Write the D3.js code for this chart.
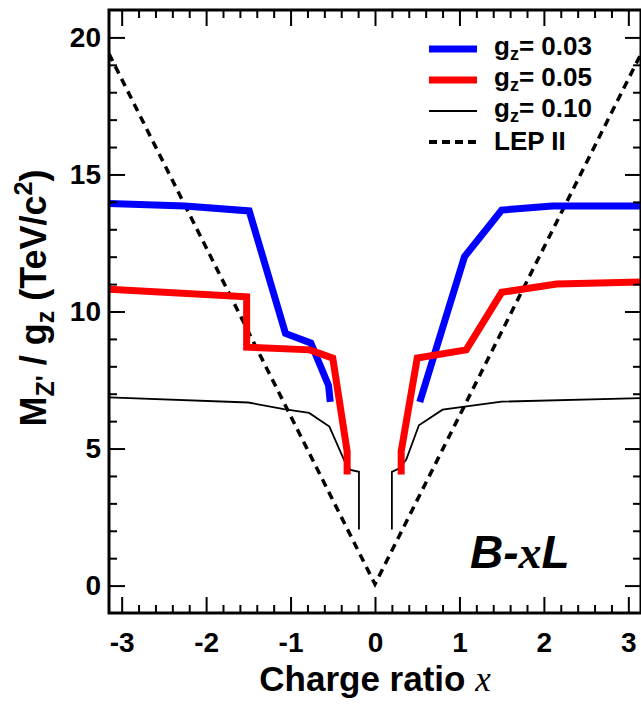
<!DOCTYPE html>
<html>
<head>
<meta charset="utf-8">
<script src="https://cdn.jsdelivr.net/npm/d3@7"></script>
<style>
  body { margin: 0; background: #fff; }
  svg text { font-family: "Liberation Sans", Arial, Helvetica, sans-serif; font-weight: bold; }
</style>
</head>
<body>
<svg id="chart" width="641" height="704"></svg>
<script>
// curves, [charge ratio x, M/g]
var blueLeft  = [[-3.15,13.94],[-2.25,13.85],[-1.49,13.67],[-1.06,9.2],[-0.76,8.85],[-0.55,7.3],[-0.53,6.7]];
var blueRight = [[0.53,6.7],[1.06,12.0],[1.5,13.7],[2.1,13.85],[3.15,13.85]];
var redLeft   = [[-3.15,10.81],[-1.52,10.54],[-1.52,8.7],[-0.77,8.6],[-0.5,8.3],[-0.33,4.9],[-0.33,4.05]];
var redRight  = [[0.31,4.05],[0.31,4.9],[0.5,8.3],[1.08,8.6],[1.5,10.7],[2.15,11.0],[3.15,11.08]];
var blackLeft = [[-3.15,6.87],[-1.5,6.68],[-1.08,6.44],[-0.78,6.3],[-0.54,5.8],[-0.34,4.4],[-0.29,4.22],[-0.19,4.15],[-0.19,2.05]];
var blackRight= [[0.2,2.05],[0.2,4.15],[0.29,4.28],[0.37,4.6],[0.52,5.85],[0.8,6.42],[1.5,6.71],[3.15,6.84]];
var lep       = [[-3.15,19.4],[0,0.05],[3.15,19.4]];

var legendNames = ["0.03", "0.05", "0.10", "LEP II"];
var xMajor = [-3,-2,-1,0,1,2,3];
var yMajor = [0,5,10,15,20];

var svg = d3.select("#chart");

var x = d3.scaleLinear().domain([-3.15, 3.15]).range([109, 641]);
var y = d3.scaleLinear().domain([-1, 21]).range([613, 10]);

var xMinor = d3.range(-15, 16).map(function(i){ return i/5; }).filter(function(v){ return Math.abs(v - Math.round(v)) > 1e-6; });
var yMinor = d3.range(0, 21).filter(function(v){ return v % 5 != 0; });

svg.append("clipPath").attr("id", "plotclip")
  .append("rect").attr("x", 109).attr("y", 10).attr("width", 532).attr("height", 603);

var line = d3.line().x(function(d){ return x(d[0]); }).y(function(d){ return y(d[1]); });

var series = [
  {data: lep,        color: "#000", w: 3.5, dash: "8,6"},
  {data: blackLeft,  color: "#000", w: 1.8},
  {data: blackRight, color: "#000", w: 1.8},
  {data: blueLeft,   color: "#0000ff", w: 7},
  {data: blueRight,  color: "#0000ff", w: 7},
  {data: redLeft,    color: "#ff0000", w: 7},
  {data: redRight,   color: "#ff0000", w: 7}
];

var plot = svg.append("g").attr("clip-path", "url(#plotclip)");
plot.selectAll("path.curve")
  .data(series).enter()
  .append("path")
  .attr("class", "curve")
  .attr("d", function(d){ return line(d.data); })
  .attr("fill", "none")
  .attr("stroke", function(d){ return d.color; })
  .attr("stroke-width", function(d){ return d.w; })
  .attr("stroke-dasharray", function(d){ return d.dash || null; })
  .attr("stroke-linejoin", "miter")
  .attr("stroke-linecap", "butt");

// axes, ticks pointing inward on all four sides
function styleAxis(g){
  g.select(".domain").remove();
  g.selectAll("line").attr("stroke", "#000").attr("stroke-width", 2);
  g.selectAll("text").attr("font-size", 28).attr("font-weight", "bold").attr("fill", "#000")
    .attr("font-family", "Liberation Sans, Arial, sans-serif");
}
var fmt = function(d){ return String(d); };

svg.append("g").attr("transform", "translate(0,613)")
  .call(d3.axisBottom(x).tickValues(xMajor).tickSize(-16).tickPadding(19).tickFormat(fmt)).call(styleAxis);
svg.append("g").attr("transform", "translate(0,613)")
  .call(d3.axisBottom(x).tickValues(xMinor).tickSize(-8).tickFormat("")).call(styleAxis);
svg.append("g").attr("transform", "translate(0,10)")
  .call(d3.axisTop(x).tickValues(xMajor).tickSize(-16).tickFormat("")).call(styleAxis);
svg.append("g").attr("transform", "translate(0,10)")
  .call(d3.axisTop(x).tickValues(xMinor).tickSize(-8).tickFormat("")).call(styleAxis);

svg.append("g").attr("transform", "translate(109,0)")
  .call(d3.axisLeft(y).tickValues(yMajor).tickSize(-16).tickPadding(8).tickFormat(fmt)).call(styleAxis);
svg.append("g").attr("transform", "translate(109,0)")
  .call(d3.axisLeft(y).tickValues(yMinor).tickSize(-8).tickFormat("")).call(styleAxis);
svg.append("g").attr("transform", "translate(641,0)")
  .call(d3.axisRight(y).tickValues(yMajor).tickSize(-16).tickFormat("")).call(styleAxis);
svg.append("g").attr("transform", "translate(641,0)")
  .call(d3.axisRight(y).tickValues(yMinor).tickSize(-8).tickFormat("")).call(styleAxis);

svg.append("rect")
  .attr("x", 109).attr("y", 10).attr("width", 532).attr("height", 603)
  .attr("fill", "none").attr("stroke", "#000").attr("stroke-width", 3);

// legend
var legendStyle = [
  {color: "#0000ff", w: 7}, {color: "#ff0000", w: 7}, {color: "#000", w: 2}, {color: "#000", w: 4, dash: "8,5"}
];
var legend = svg.append("g").selectAll("g")
  .data(legendNames).enter()
  .append("g")
  .attr("transform", function(d, i){ return "translate(0," + (49 + i * 31) + ")"; });

legend.append("line")
  .attr("x1", 429).attr("x2", 477).attr("y1", 0).attr("y2", 0)
  .attr("stroke", function(d, i){ return legendStyle[i].color; })
  .attr("stroke-width", function(d, i){ return legendStyle[i].w; })
  .attr("stroke-dasharray", function(d, i){ return legendStyle[i].dash || null; });

legend.each(function(d, i){
  var t = d3.select(this).append("text").attr("x", 494).attr("y", 6).attr("font-size", 26);
  if (d == "LEP II") { t.attr("y", 8).text(d); return; }
  t.append("tspan").text("g");
  t.append("tspan").attr("dy", 5).attr("font-size", 18).text("z");
  t.append("tspan").attr("dy", -5).text("= " + d);
});

// axis titles
svg.append("text")
  .attr("x", 375).attr("y", 691)
  .attr("text-anchor", "middle")
  .attr("font-size", 35)
  .call(function(t){
    t.append("tspan").text("Charge ratio ");
    t.append("tspan").attr("font-family", "Liberation Serif, serif").attr("font-style", "italic").attr("font-weight", "normal").text("x");
  });

svg.append("text")
  .attr("transform", "translate(46,298) rotate(-90)")
  .attr("text-anchor", "middle")
  .attr("font-size", 36)
  .call(function(t){
    t.append("tspan").text("M");
    t.append("tspan").attr("dy", 8).attr("font-size", 25).text("Z'");
    t.append("tspan").attr("dy", -8).text(" / g");
    t.append("tspan").attr("dy", 8).attr("font-size", 25).text("z");
    t.append("tspan").attr("dy", -8).text(" (TeV/c");
    t.append("tspan").attr("dy", -14).attr("font-size", 25).text("2");
    t.append("tspan").attr("dy", 14).text(")");
  });

// model label
svg.append("text")
  .attr("x", 470).attr("y", 568)
  .attr("font-size", 46).attr("font-style", "italic")
  .call(function(t){
    t.append("tspan").text("B-");
    t.append("tspan").attr("font-family", "Liberation Serif, serif").text("x");
    t.append("tspan").text("L");
  });
</script>
</body>
</html>
